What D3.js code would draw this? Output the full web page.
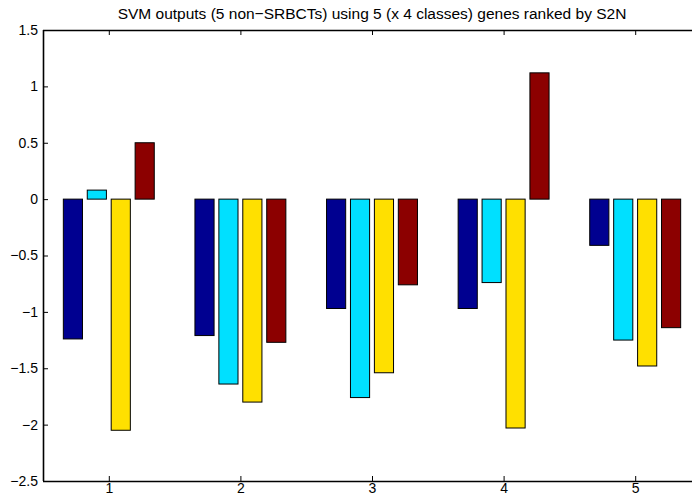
<!DOCTYPE html>
<html>
<head>
<meta charset="utf-8">
<script src="https://d3js.org/d3.v7.min.js"></script>
<style>
    body { margin: 0; background: #fff; }
    text { font-family: "Liberation Sans", Arial, Helvetica, sans-serif; }
    .axis text { font-size: 14px; fill: #000; }
    .axis line { stroke: #000; }
    .axis path { stroke: #000; stroke-width: 1.6; }
</style>
</head>
<body>
<script>
    // samples on the x axis, one group of bars each
    var samples = [1, 2, 3, 4, 5];
    // one series per class
    var classA = [-1.24, -1.21, -0.97, -0.97, -0.41];
    var classB = [0.08, -1.64, -1.76, -0.74, -1.25];
    var classC = [-2.05, -1.80, -1.54, -2.03, -1.48];
    var classD = [0.50, -1.27, -0.76, 1.12, -1.14];
    var yTicks = [-2.5, -2, -1.5, -1, -0.5, 0, 0.5, 1, 1.5];

    var series = [classA, classB, classC, classD];
    var colors = ["#000090", "#00e0ff", "#ffe000", "#8c0000"];

    var margin = { top: 30, left: 43 },
        width = 658,
        height = 451;

    var svg = d3.select("body").append("svg")
        .attr("width", 692)
        .attr("height", 497);

    var g = svg.append("g")
        .attr("transform", "translate(" + margin.left + "," + margin.top + ")");

    var x = d3.scaleLinear().domain([0.5, 5.5]).range([0, width]);
    var y = d3.scaleLinear().domain([-2.5, 1.5]).range([height, 0]);

    // matlab grouped bar layout
    var n = series.length;
    var groupWidth = Math.min(0.8, n / (n + 1.5));
    var step = groupWidth / n;
    var barW = x(step * 0.8) - x(0);

    series.forEach(function (vals, i) {
        var off = (i - (n - 1) / 2) * step;
        g.append("g").selectAll("rect")
            .data(vals)
            .enter().append("rect")
            .attr("x", function (d, j) { return x(samples[j] + off) - barW / 2; })
            .attr("y", function (d) { return y(Math.max(0, d)); })
            .attr("width", barW)
            .attr("height", function (d) { return Math.abs(y(d) - y(0)); })
            .attr("fill", colors[i])
            .attr("stroke", "#000")
            .attr("stroke-width", 1);
    });

    var fmt = function (d) { return String(d).replace("-", "\u2212"); };

    g.append("g").attr("class", "axis")
        .call(d3.axisLeft(y).tickValues(yTicks).tickSize(-5).tickPadding(5).tickFormat(fmt))
        .call(function (a) { a.select(".domain").attr("d", "M0.5," + height + "V0"); });

    g.append("g").attr("class", "axis")
        .attr("transform", "translate(0," + height + ")")
        .call(d3.axisBottom(x).tickValues(samples).tickSize(-5).tickPadding(2).tickFormat(d3.format("d")))
        .call(function (a) { a.select(".domain").attr("d", "M0," + 0.5 + "H" + width); });

    g.append("g").attr("class", "axis")
        .call(d3.axisTop(x).tickValues(samples).tickSize(-5).tickFormat(""))
        .call(function (a) { a.select(".domain").attr("d", "M0,0.5H" + width); });

    svg.append("text")
        .attr("x", margin.left + width / 2)
        .attr("y", 19)
        .attr("text-anchor", "middle")
        .style("font-size", "15.5px")
        .text("SVM outputs (5 non\u2212SRBCTs) using 5 (x 4 classes) genes ranked by S2N");
</script>
</body>
</html>
